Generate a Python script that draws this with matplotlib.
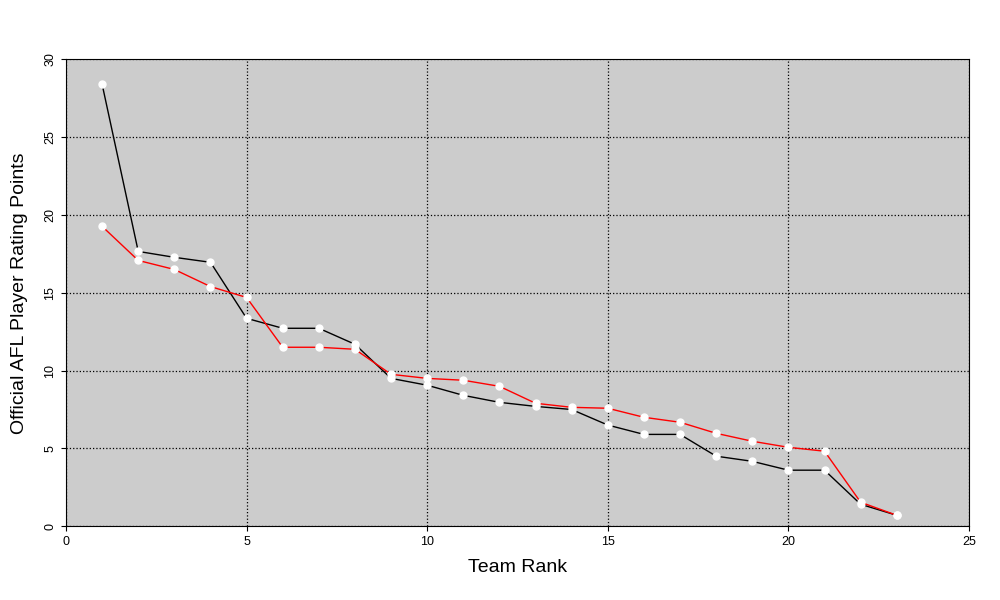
import matplotlib
matplotlib.use("Agg")
import matplotlib.pyplot as plt

plt.rcParams['font.family'] = ['Liberation Sans', 'DejaVu Sans']

rank = list(range(1, 24))
black = [28.4, 17.66, 17.28, 16.96, 13.36, 12.72, 12.72, 11.69, 9.5, 9.06, 8.41, 7.96,
         7.7, 7.5, 6.5, 5.9, 5.9, 4.5, 4.17, 3.6, 3.6, 1.41, 0.7]
red = [19.27, 17.08, 16.5, 15.4, 14.7, 11.5, 11.5, 11.37, 9.76, 9.5, 9.38, 8.99,
       7.9, 7.64, 7.58, 7.0, 6.68, 5.97, 5.46, 5.07, 4.82, 1.54, 0.7]

fig = plt.figure(figsize=(10, 6), dpi=100)
ax = fig.add_axes([0.066, 0.123, 0.903, 0.778])
ax.set_facecolor("#cccccc")
ax.plot(rank, black, color="black", lw=1, marker="o", mfc="white", mec="white", ms=5, zorder=3)
ax.plot(rank, red, color="red", lw=1, marker="o", mfc="white", mec="white", ms=5, zorder=3)
ax.set_xlim(0, 25)
ax.set_ylim(0, 30)
ax.set_xticks(range(0, 26, 5))
ax.set_yticks(range(0, 31, 5))
ax.grid(True, color="black", linestyle=":", lw=0.9)
ax.set_axisbelow(True)
for lbl in ax.get_yticklabels():
    lbl.set_rotation(90)
    lbl.set_va("center")
ax.tick_params(labelsize=9)
ax.set_xlabel("Team Rank", fontsize=14, labelpad=8)
ax.set_ylabel("Official AFL Player Rating Points", fontsize=14, labelpad=12)
fig.savefig("out.png")
